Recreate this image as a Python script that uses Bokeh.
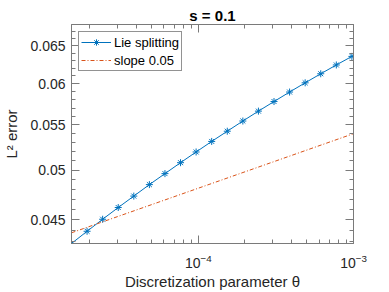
from bokeh.plotting import figure
from bokeh.models import (LogAxis, FixedTicker, LogTickFormatter, CustomJSTickFormatter,
                          Range1d)
from bokeh.embed import file_html
from bokeh.resources import INLINE

# ---- data ----
theta = [1.5259e-5, 1.9225e-5, 2.4222e-5, 3.0518e-5, 3.8450e-5, 4.8444e-5,
         6.1035e-5, 7.6900e-5, 9.6889e-5, 1.2207e-4, 1.5380e-4, 1.9378e-4,
         2.4414e-4, 3.0760e-4, 3.8755e-4, 4.8828e-4, 6.1520e-4, 7.7510e-4,
         9.7656e-4]
lie_err = [0.04282, 0.04394, 0.04507, 0.04620, 0.04733, 0.04849, 0.04963,
           0.05079, 0.05195, 0.05312, 0.05428, 0.05546, 0.05663, 0.05779,
           0.05896, 0.06012, 0.06128, 0.06243, 0.06357]
slope_theta = [1.5259e-5, 1.0e-3]
slope_err = [0.0438, 0.0540]

x_lim = [1.5259e-5, 1.0e-3]
y_lim = [0.04282, 0.0680]
x_major = [1e-4, 1e-3]
x_minor = [2e-5, 3e-5, 4e-5, 5e-5, 6e-5, 7e-5, 8e-5, 9e-5,
           2e-4, 3e-4, 4e-4, 5e-4, 6e-4, 7e-4, 8e-4, 9e-4]
y_major = [0.045, 0.05, 0.055, 0.06, 0.065]
y_minor = [0.043, 0.044, 0.045, 0.046, 0.047, 0.048, 0.049, 0.050, 0.051,
           0.052, 0.053, 0.054, 0.055, 0.056, 0.057, 0.058, 0.059, 0.060,
           0.061, 0.062, 0.063, 0.064, 0.065, 0.066, 0.067]

BLUE = "#0072BD"
ORANGE = "#D95319"
AX = "#7a7a7a"
TXT = "#262626"
FONT = "Liberation Sans"

p = figure(frame_width=282, frame_height=219, x_axis_type="log", y_axis_type="log",
           x_range=Range1d(*x_lim), y_range=Range1d(*y_lim),
           output_backend="svg", toolbar_location=None, title="s = 0.1",
           min_border_left=70, min_border_right=37, min_border_top=24,
           min_border_bottom=49)

p.title.align = "center"
p.title.text_font = FONT
p.title.text_font_size = "15px"
p.title.text_font_style = "bold"
p.title.text_color = "#000000"
p.title.standoff = 2
p.title.offset = 0

p.grid.visible = False
p.outline_line_color = AX
p.background_fill_color = "white"
p.border_fill_color = "white"

xt = FixedTicker(ticks=x_major, minor_ticks=x_minor)
yt = FixedTicker(ticks=y_major, minor_ticks=y_minor)
yfmt = CustomJSTickFormatter(code="return String(+tick.toFixed(3));")
blank = CustomJSTickFormatter(code="return '';")


def style(ax, labels=True):
    ax.axis_line_color = AX
    ax.major_tick_line_color = AX
    ax.minor_tick_line_color = AX
    ax.major_tick_in = 8
    ax.major_tick_out = 0
    ax.minor_tick_in = 4
    ax.minor_tick_out = 0
    ax.major_label_text_font = FONT
    ax.major_label_text_font_size = "14px"
    ax.major_label_text_color = TXT
    ax.axis_label_text_font = FONT
    ax.axis_label_text_font_size = "15px"
    ax.axis_label_text_font_style = "normal"
    ax.axis_label_text_color = TXT
    if not labels:
        ax.formatter = blank
        ax.major_label_text_font_size = "1px"
        ax.major_label_standoff = 0


xa = p.xaxis[0]
xa.ticker = xt
xa.formatter = LogTickFormatter()
xa.axis_label = "Discretization parameter θ"
style(xa)
xa.major_label_standoff = 10
xa.axis_label_standoff = 2

ya = p.yaxis[0]
ya.ticker = yt
ya.formatter = yfmt
ya.axis_label = "L² error"
style(ya)
ya.major_label_standoff = 6
ya.axis_label_standoff = 7

top = LogAxis(ticker=xt)
style(top, labels=False)
p.add_layout(top, "above")
right = LogAxis(ticker=yt)
style(right, labels=False)
p.add_layout(right, "right")

p.line(theta, lie_err, color=BLUE, line_width=1, legend_label="Lie splitting")
p.scatter(theta, lie_err, marker="asterisk", size=7, line_color=BLUE,
          line_width=1, legend_label="Lie splitting")
p.line(slope_theta, slope_err, color=ORANGE, line_width=1,
       line_dash="4 2 1 2", legend_label="slope 0.05")

lg = p.legend[0]
lg.location = "top_left"
lg.margin = 7
lg.padding = 2
lg.spacing = 2
lg.label_text_font = FONT
lg.label_text_font_size = "13px"
lg.label_text_color = "#000000"
lg.label_height = 16
lg.glyph_height = 16
lg.glyph_width = 30
lg.label_standoff = 3
lg.border_line_color = TXT
lg.border_line_width = 1
lg.background_fill_alpha = 1

open("out.html", "w").write(file_html(p, INLINE))
